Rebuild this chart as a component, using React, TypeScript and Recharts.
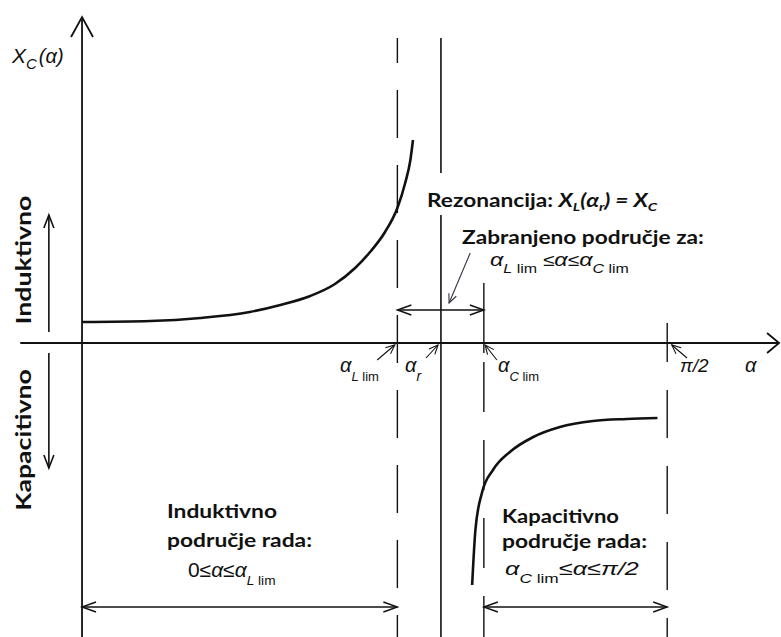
import React from 'react';
import { ComposedChart, Line, XAxis, YAxis, ReferenceLine } from 'recharts';

// angle alpha in degrees (pi/2 = 90), reactance in arbitrary units
const inductiveAlpha = [0, 10.5, 18.2, 25.8, 30.5, 35.1, 38.9, 42.0, 44.3, 46.6, 48.5, 49.7, 50.5, 50.9];
const inductiveX = [0.21, 0.22, 0.25, 0.31, 0.38, 0.47, 0.59, 0.75, 0.91, 1.11, 1.35, 1.6, 1.83, 2.03];
const capacitiveAlpha = [60.0, 60.5, 61.5, 63.2, 65.8, 69.4, 73.5, 78.6, 83.8, 88.5];
const capacitiveX = [-2.42, -1.87, -1.5, -1.27, -1.09, -0.94, -0.84, -0.78, -0.76, -0.75];

const alphaLlim = 48.5;
const alphaR = 55.2;
const alphaClim = 61.8;
const halfPi = 90;

const inductive = inductiveAlpha.map((a, i) => ({ a, x: inductiveX[i] }));
const capacitive = capacitiveAlpha.map((a, i) => ({ a, x: capacitiveX[i] }));

const INK = '#111';

const arrowShape = (opts: { start?: boolean; end?: boolean; len?: number; half?: number }) => (props: any) => {
  const { x1, y1, x2, y2, stroke, strokeWidth, strokeDasharray, strokeDashoffset } = props;
  const len = opts.len ?? 10;
  const half = opts.half ?? 5;
  const dx = x2 - x1;
  const dy = y2 - y1;
  const L = Math.hypot(dx, dy) || 1;
  const ux = dx / L;
  const uy = dy / L;
  const head = (tx: number, ty: number, ex: number, ey: number) => {
    const bx = tx - ex * len;
    const by = ty - ey * len;
    const px = -ey;
    const py = ex;
    return `M${bx + px * half},${by + py * half} L${tx},${ty} L${bx - px * half},${by - py * half}`;
  };
  return (
    <g>
      <line x1={x1} y1={y1} x2={x2} y2={y2} stroke={stroke} strokeWidth={strokeWidth}
        strokeDasharray={strokeDasharray} strokeDashoffset={strokeDashoffset} />
      {opts.start && <path d={head(x1, y1, -ux, -uy)} fill="none" stroke={stroke} strokeWidth={strokeWidth} />}
      {opts.end && <path d={head(x2, y2, ux, uy)} fill="none" stroke={stroke} strokeWidth={strokeWidth} />}
    </g>
  );
};

const plain = arrowShape({});
const small = arrowShape({ end: true, len: 9, half: 4 });
const both = arrowShape({ start: true, end: true, len: 14, half: 5 });

// text in the source is drawn horizontally stretched
const Stretch = ({ x, y, sx, rotate, children }: any) => (
  <g transform={`translate(${x},${y})${rotate ? ' rotate(-90)' : ''} scale(${sx},1)`}>{children}</g>
);

export default function App() {
  const bold = { fontFamily: 'Lato, sans-serif', fontWeight: 700, fill: INK } as const;
  const math = { fontFamily: '"Liberation Sans", sans-serif', fill: INK } as const;
  return (
    <div style={{ position: 'fixed', left: 0, top: 0, width: 781, height: 637, background: '#fff' }}>
      <ComposedChart width={781} height={637} margin={{ top: 0, right: 0, bottom: 0, left: 4 }}>
        <XAxis type="number" dataKey="a" domain={[-12, 107.5]} hide allowDataOverflow />
        <YAxis type="number" domain={[-2.94, 3.43]} hide allowDataOverflow />

        {/* axes */}
        <ReferenceLine segment={[{ x: -9.5, y: 0 }, { x: 107.2, y: 0 }]} ifOverflow="visible"
          stroke={INK} strokeWidth={1.8} shape={arrowShape({ end: true, len: 12, half: 10 })} />
        <ReferenceLine segment={[{ x: 0, y: -2.94 }, { x: 0, y: 3.26 }]} ifOverflow="visible"
          stroke={INK} strokeWidth={1.8} shape={arrowShape({ end: true, len: 20, half: 11 })} />

        {/* limit lines */}
        <ReferenceLine segment={[{ x: alphaLlim, y: 3.05 }, { x: alphaLlim, y: -2.94 }]} ifOverflow="visible"
          stroke={INK} strokeWidth={1.4} strokeDasharray="48 27" strokeDashoffset={23} shape={plain} />
        <ReferenceLine segment={[{ x: alphaR, y: 3.05 }, { x: alphaR, y: 1.7 }]} ifOverflow="visible"
          stroke={INK} strokeWidth={1.6} shape={plain} />
        <ReferenceLine segment={[{ x: alphaR, y: 1.28 }, { x: alphaR, y: -2.94 }]} ifOverflow="visible"
          stroke={INK} strokeWidth={1.6} shape={plain} />
        <ReferenceLine segment={[{ x: alphaClim, y: 0.6 }, { x: alphaClim, y: -0.1 }]} ifOverflow="visible"
          stroke={INK} strokeWidth={1.4} shape={plain} />
        <ReferenceLine segment={[{ x: alphaClim, y: -0.19 }, { x: alphaClim, y: -2.94 }]} ifOverflow="visible"
          stroke={INK} strokeWidth={1.4} strokeDasharray="50 28" shape={plain} />
        <ReferenceLine segment={[{ x: halfPi, y: 0.2 }, { x: halfPi, y: -0.19 }]} ifOverflow="visible"
          stroke={INK} strokeWidth={1.4} shape={plain} />
        <ReferenceLine segment={[{ x: halfPi, y: -0.47 }, { x: halfPi, y: -2.94 }]} ifOverflow="visible"
          stroke={INK} strokeWidth={1.4} strokeDasharray="48 28" shape={plain} />

        {/* range arrows */}
        <ReferenceLine segment={[{ x: alphaLlim, y: 0.33 }, { x: alphaClim, y: 0.33 }]} ifOverflow="visible"
          stroke={INK} strokeWidth={1.4} shape={both} />
        <ReferenceLine segment={[{ x: 0, y: -2.64 }, { x: alphaLlim, y: -2.64 }]} ifOverflow="visible"
          stroke={INK} strokeWidth={1.4} shape={both} />
        <ReferenceLine segment={[{ x: alphaClim, y: -2.64 }, { x: halfPi, y: -2.64 }]} ifOverflow="visible"
          stroke={INK} strokeWidth={1.4} shape={both} />
        <ReferenceLine segment={[{ x: -5.1, y: 0.11 }, { x: -5.1, y: 1.28 }]} ifOverflow="visible"
          stroke={INK} strokeWidth={1.6} shape={arrowShape({ end: true, len: 13, half: 5 })} />
        <ReferenceLine segment={[{ x: -5.1, y: -0.1 }, { x: -5.1, y: -1.25 }]} ifOverflow="visible"
          stroke={INK} strokeWidth={1.6} shape={arrowShape({ end: true, len: 13, half: 5 })} />

        {/* pointer arrows */}
        <ReferenceLine segment={[{ x: alphaLlim - 3.1, y: -0.17 }, { x: alphaLlim - 0.4, y: -0.02 }]} ifOverflow="visible"
          stroke={INK} strokeWidth={1.1} shape={small} />
        <ReferenceLine segment={[{ x: alphaR - 2.3, y: -0.15 }, { x: alphaR - 0.45, y: -0.02 }]} ifOverflow="visible"
          stroke={INK} strokeWidth={1.1} shape={small} />
        <ReferenceLine segment={[{ x: alphaClim + 2.0, y: -0.17 }, { x: alphaClim + 0.2, y: -0.02 }]} ifOverflow="visible"
          stroke={INK} strokeWidth={1.1} shape={small} />
        <ReferenceLine segment={[{ x: halfPi + 3.05, y: -0.15 }, { x: halfPi + 0.7, y: -0.02 }]} ifOverflow="visible"
          stroke={INK} strokeWidth={1.1} shape={small} />
        <ReferenceLine segment={[{ x: 59.7, y: 0.9 }, { x: 56.45, y: 0.4 }]} ifOverflow="visible"
          stroke="#334" strokeWidth={1.1} shape={small} />

        <Line data={inductive} dataKey="x" type="monotone" stroke={INK} strokeWidth={2.6}
          dot={false} activeDot={false} isAnimationActive={false} />
        <Line data={capacitive} dataKey="x" type="monotone" stroke={INK} strokeWidth={2.6}
          dot={false} activeDot={false} isAnimationActive={false} />
      </ComposedChart>

      <svg width={781} height={637} style={{ position: 'absolute', left: 0, top: 0, pointerEvents: 'none' }}>
        <text x={12} y={63} {...math} fontStyle="italic" fontSize={21}>
          X<tspan fontSize={15} dy={6}>C</tspan><tspan fontSize={20} dy={-6} dx={2}>(α)</tspan>
        </text>

        <Stretch x={427} y={207} sx={1.26}>
          <text x={0} y={0} {...bold} fontSize={18}>
            Rezonancija: <tspan fontStyle="italic">X</tspan><tspan fontStyle="italic" fontSize={12} dy={4}>L</tspan>
            <tspan fontStyle="italic" dy={-4}>(α</tspan><tspan fontStyle="italic" fontSize={12} dy={4}>r</tspan>
            <tspan fontStyle="italic" dy={-4}>) = X</tspan><tspan fontStyle="italic" fontSize={12} dy={4}>C</tspan>
          </text>
        </Stretch>
        <Stretch x={462} y={244} sx={1.26}>
          <text x={0} y={0} {...bold} fontSize={18}>Zabranjeno područje za:</text>
        </Stretch>
        <Stretch x={490} y={266} sx={1.23}>
          <text x={0} y={0} {...math} fontSize={19}>
            <tspan fontStyle="italic">α</tspan><tspan fontSize={13} dy={7} fontStyle="italic">L</tspan>
            <tspan fontSize={13}> lim</tspan><tspan dy={-7} fontSize={17}> ≤</tspan><tspan fontStyle="italic">α</tspan>
            <tspan fontSize={17}>≤</tspan><tspan fontStyle="italic">α</tspan>
            <tspan fontSize={13} dy={7} fontStyle="italic">C</tspan><tspan fontSize={13}> lim</tspan>
          </text>
        </Stretch>

        <text x={340} y={372} {...math} fontSize={20}>
          <tspan fontStyle="italic">α</tspan><tspan fontSize={13} dy={9} fontStyle="italic">L</tspan>
          <tspan fontSize={13}> lim</tspan>
        </text>
        <text x={405} y={372} {...math} fontSize={20}>
          <tspan fontStyle="italic">α</tspan><tspan fontSize={14} dy={9} fontStyle="italic">r</tspan>
        </text>
        <text x={498} y={372} {...math} fontSize={20}>
          <tspan fontStyle="italic">α</tspan><tspan fontSize={13} dy={9} fontStyle="italic">C</tspan>
          <tspan fontSize={13}> lim</tspan>
        </text>
        <text x={680} y={372} {...math} fontSize={19} fontStyle="italic">π/2</text>
        <text x={745} y={372} {...math} fontSize={20} fontStyle="italic">α</text>

        <Stretch x={31} y={260} sx={1.27} rotate>
          <text x={0} y={0} textAnchor="middle" {...bold} fontSize={21}>Induktivno</text>
        </Stretch>
        <Stretch x={31} y={440} sx={1.27} rotate>
          <text x={0} y={0} textAnchor="middle" {...bold} fontSize={21}>Kapacitivno</text>
        </Stretch>

        <Stretch x={167} y={518} sx={1.2}>
          <text x={0} y={0} {...bold} fontSize={19}>Induktivno</text>
        </Stretch>
        <Stretch x={167} y={547} sx={1.2}>
          <text x={0} y={0} {...bold} fontSize={19}>područje rada:</text>
        </Stretch>
        <Stretch x={188} y={577} sx={1.05}>
          <text x={0} y={0} {...math} fontSize={20}>
            0≤<tspan fontStyle="italic">α</tspan>≤<tspan fontStyle="italic">α</tspan>
            <tspan fontSize={13} dy={8} fontStyle="italic">L</tspan><tspan fontSize={13}> lim</tspan>
          </text>
        </Stretch>

        <Stretch x={502} y={523} sx={1.16}>
          <text x={0} y={0} {...bold} fontSize={19}>Kapacitivno</text>
        </Stretch>
        <Stretch x={502} y={548} sx={1.2}>
          <text x={0} y={0} {...bold} fontSize={19}>područje rada:</text>
        </Stretch>
        <Stretch x={505} y={575} sx={1.33}>
          <text x={0} y={0} {...math} fontSize={19}>
            <tspan fontStyle="italic">α</tspan><tspan fontSize={13} dy={8} fontStyle="italic">C</tspan>
            <tspan fontSize={13}> lim</tspan><tspan dy={-8}>≤</tspan><tspan fontStyle="italic">α</tspan>≤
            <tspan fontStyle="italic">π/2</tspan>
          </text>
        </Stretch>
      </svg>
    </div>
  );
}
